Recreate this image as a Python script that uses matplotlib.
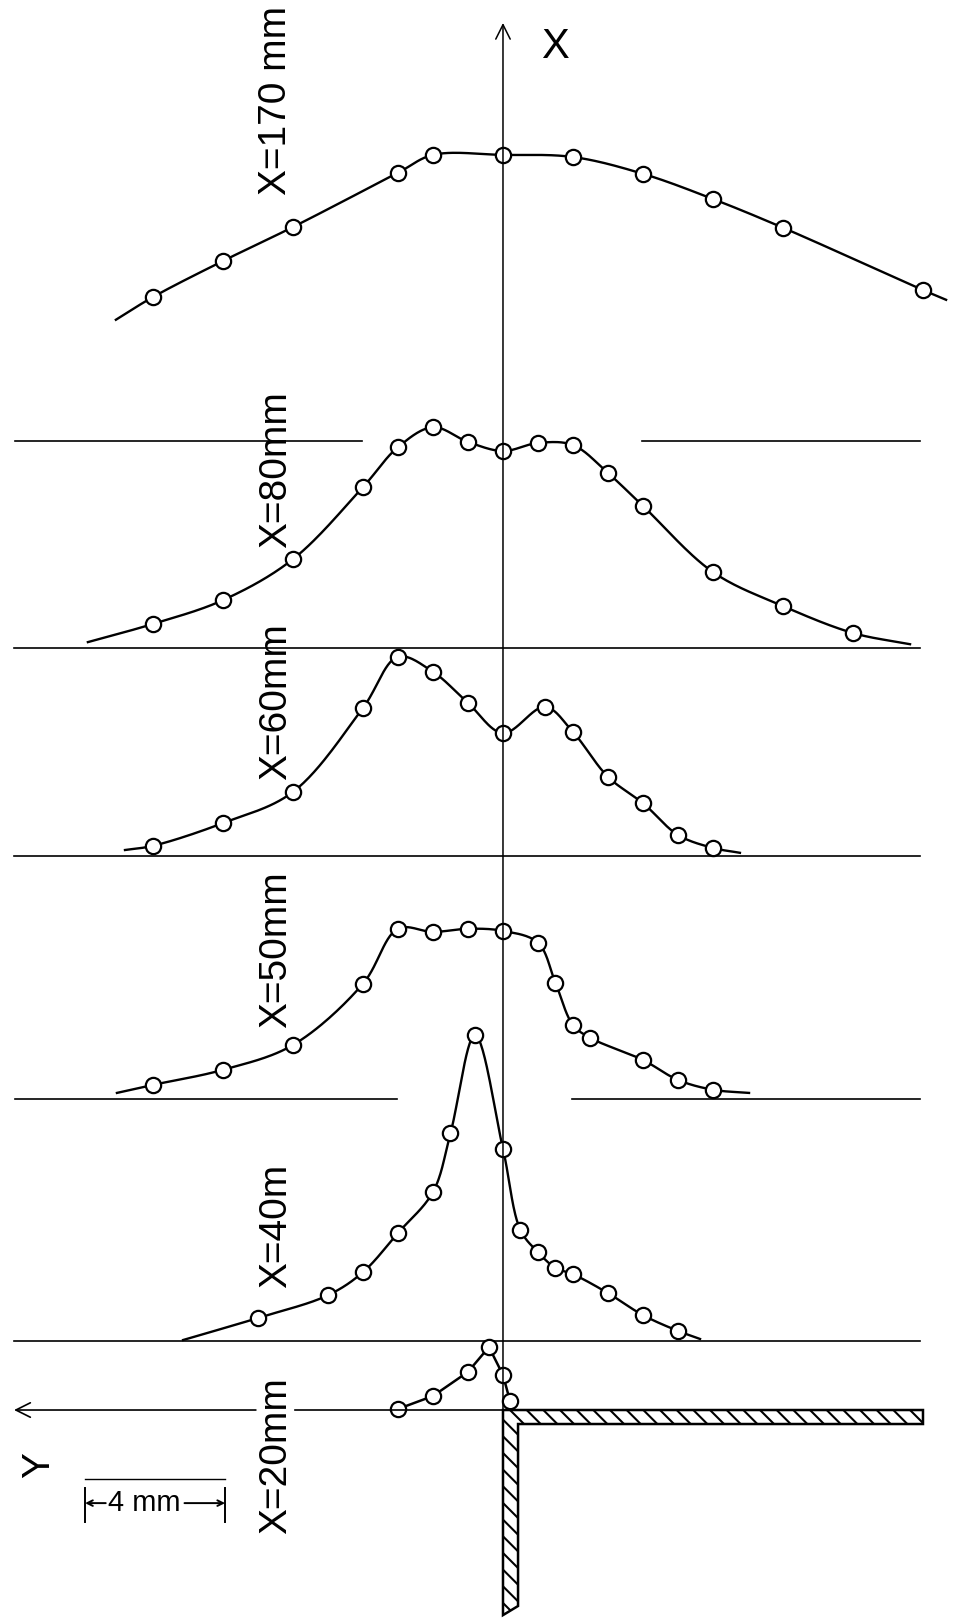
import numpy as np
import matplotlib
matplotlib.use("Agg")
import matplotlib.pyplot as plt
from matplotlib.patches import Polygon

plt.rcParams["font.family"] = ["Liberation Sans", "DejaVu Sans"]
plt.rcParams["hatch.linewidth"] = 1.5

# station labels, top to bottom
stations = ["X=170 mm", "X=80mm", "X=60mm", "X=50mm", "X=40m", "X=20mm"]

# lateral position Y (mm) of the measuring points and profile height (drawing mm)
y_170 = [10, 8, 6, 3, 2, 0, -2, -4, -6, -8, -12]
u_170 = [4.11, 5.14, 6.11, 7.66, 8.17, 8.17, 8.11, 7.63, 6.91, 6.09, 4.31]

y_80 = [10, 8, 6, 4, 3, 2, 1, 0, -1, -2, -3, -4, -6, -8, -10]
u_80 = [0.69, 1.37, 2.54, 4.60, 5.74, 6.31, 5.89, 5.63, 5.86, 5.80, 5.00, 4.06, 2.17, 1.20, 0.43]

y_60 = [10, 8, 6, 4, 3, 2, 1, 0, -1.2, -2, -3, -4, -5, -6]
u_60 = [0.29, 0.94, 1.83, 4.23, 5.69, 5.26, 4.37, 3.51, 4.26, 3.54, 2.26, 1.51, 0.60, 0.23]

y_50 = [10, 8, 6, 4, 3, 2, 1, 0, -1, -1.5, -2, -2.5, -4, -5, -6]
u_50 = [0.40, 0.83, 1.54, 3.29, 4.86, 4.77, 4.86, 4.80, 4.46, 3.31, 2.11, 1.74, 1.11, 0.54, 0.26]

y_40 = [7, 5, 4, 3, 2, 1.5, 0.8, 0, -0.5, -1, -1.5, -2, -3, -4, -5]
u_40 = [0.66, 1.31, 1.97, 3.09, 4.26, 5.94, 8.74, 5.49, 3.17, 2.54, 2.09, 1.91, 1.37, 0.74, 0.29]

y_20 = [3, 2, 1, 0.4, 0, -0.2]
u_20 = [0.03, 0.40, 1.09, 1.80, 1.00, 0.26]

# free ends of the hand-drawn curves (Y, height)
ends_170 = [(11.06, 3.46), (-12.66, 4.03)]
ends_80 = [(11.86, 0.17), (-11.63, 0.11)]
ends_60 = [(10.8, 0.17), (-6.77, 0.09)]
ends_50 = [(11.03, 0.17), (-7.03, 0.17)]
ends_40 = [(9.14, 0.03), (-5.63, 0.06)]

profiles = [(y_170, u_170, ends_170), (y_80, u_80, ends_80), (y_60, u_60, ends_60),
            (y_50, u_50, ends_50), (y_40, u_40, ends_40), (y_20, u_20, None)]

# layout: baseline level of each profile above the wall (drawing mm)
base = [27.69, 21.77, 15.83, 8.89, 1.97, 0.0]
base_segments = [[(13.94, 4.03), (-3.97, -11.91)],
                 [(13.97, -11.91)],
                 [(13.97, -11.91)],
                 [(13.94, 3.03), (-1.97, -11.91)],
                 [(13.97, -11.91)],
                 []]
label_z = [37.43, 26.86, 20.23, 13.14, 5.26, -1.31]


def smooth(xs, ys, n=30):
    P = np.column_stack([xs, ys]).astype(float)
    P = np.vstack([2 * P[0] - P[1], P, 2 * P[-1] - P[-2]])
    out = []
    for i in range(1, len(P) - 2):
        p0, p1, p2, p3 = P[i - 1], P[i], P[i + 1], P[i + 2]
        t0 = 0.0
        t1 = t0 + np.linalg.norm(p1 - p0) ** 0.5
        t2 = t1 + np.linalg.norm(p2 - p1) ** 0.5
        t3 = t2 + np.linalg.norm(p3 - p2) ** 0.5
        t = np.linspace(t1, t2, n)[:, None]
        a1 = (t1 - t) / (t1 - t0) * p0 + (t - t0) / (t1 - t0) * p1
        a2 = (t2 - t) / (t2 - t1) * p1 + (t - t1) / (t2 - t1) * p2
        a3 = (t3 - t) / (t3 - t2) * p2 + (t - t2) / (t3 - t2) * p3
        b1 = (t2 - t) / (t2 - t0) * a1 + (t - t0) / (t2 - t0) * a2
        b2 = (t3 - t) / (t3 - t1) * a2 + (t - t1) / (t3 - t1) * a3
        out.append((t2 - t) / (t2 - t1) * b1 + (t - t1) / (t2 - t1) * b2)
    return np.vstack(out)


fig = plt.figure(figsize=(9.54, 16.19), dpi=100)
ax = fig.add_axes([0, 0, 1, 1])
ax.set_xlim(14.371, -12.886)
ax.set_ylim(-5.971, 40.286)
ax.axis("off")

for (ys, us, ends), z0, segs, lab, lz in zip(profiles, base, base_segments, stations, label_z):
    for a, b in segs:
        ax.plot([a, b], [z0, z0], color="black", lw=1.2)
    if ends is None:
        ax.plot(ys, np.array(us) + z0, color="black", lw=1.8)
    else:
        cx = [ends[0][0]] + ys + [ends[1][0]]
        cy = [ends[0][1]] + us + [ends[1][1]]
        c = smooth(cx, cy)
        ax.plot(c[:, 0], c[:, 1] + z0, color="black", lw=1.7)
    ax.plot(ys, np.array(us) + z0, "o", ms=11, mfc="white", mec="black", mew=1.6)
    ax.text(6.49, lz, lab, rotation=90, fontsize=28, ha="center", va="center")

# X axis
ax.annotate("", xy=(0, 39.63), xytext=(0, 0),
            arrowprops=dict(arrowstyle="->", lw=1.1, mutation_scale=26, shrinkA=0, shrinkB=0))
ax.text(-1.49, 38.94, "X", fontsize=30, ha="center", va="center")

# Y axis (broken around the X=20 label)
ax.plot([0, 5.94], [0, 0], color="black", lw=1.2)
ax.annotate("", xy=(13.97, 0), xytext=(7.06, 0),
            arrowprops=dict(arrowstyle="->", lw=1.2, mutation_scale=26, shrinkA=0, shrinkB=0))
ax.text(13.26, -1.57, "Y", rotation=90, fontsize=28, ha="center", va="center")

# wall
wall = Polygon([(0, 0), (-12, 0), (-12, -0.4), (-0.43, -0.4), (-0.43, -5.6), (0, -5.86)],
               closed=True, facecolor="none", edgecolor="black", lw=1.8, hatch="\\\\")
ax.add_patch(wall)

# 4 mm scale bar
ax.plot([11.94, 7.94], [-1.97, -1.97], color="black", lw=1.0)
for yb in (11.94, 7.94):
    ax.plot([yb, yb], [-2.23, -3.2], color="black", lw=1.4)
ax.annotate("", xy=(11.94, -2.66), xytext=(11.35, -2.66),
            arrowprops=dict(arrowstyle="->", lw=1.4, shrinkA=0, shrinkB=0))
ax.annotate("", xy=(7.94, -2.66), xytext=(9.1, -2.66),
            arrowprops=dict(arrowstyle="->", lw=1.4, shrinkA=0, shrinkB=0))
ax.text(10.25, -2.66, "4 mm", fontsize=21, ha="center", va="center")

fig.savefig("out.png", dpi=100, facecolor="white")
